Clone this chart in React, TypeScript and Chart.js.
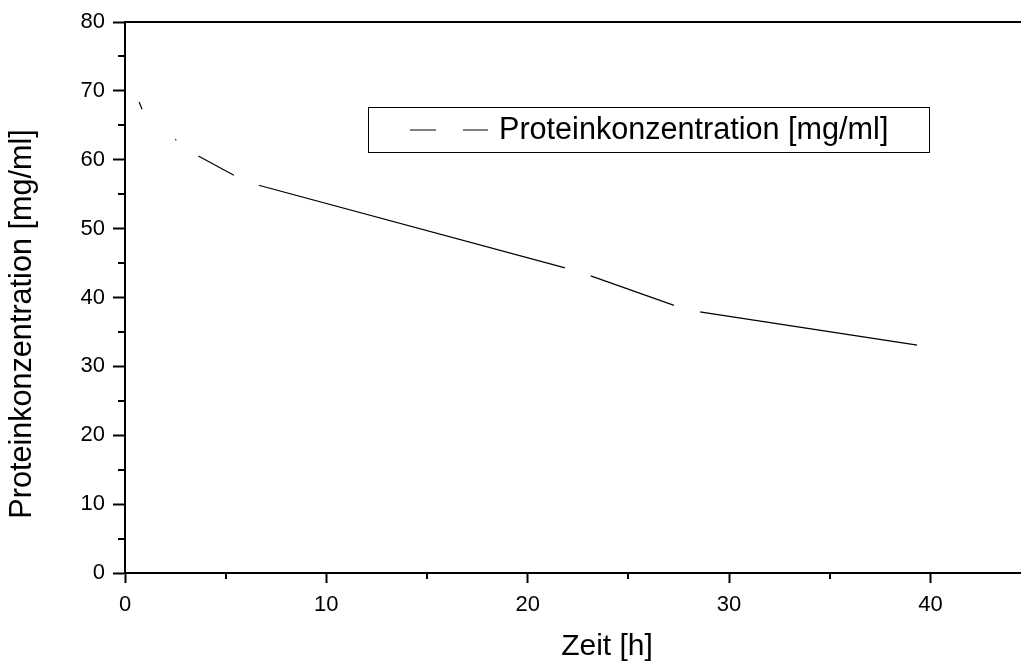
import React, { useEffect, useRef } from 'react';
import { Chart, registerables } from 'chart.js';

Chart.register(...registerables);

// ---- data ----
const timeHours = [0.45, 1.1, 2.0, 3.05, 6.0, 22.5, 27.9, 40.0];
const proteinConc = [70.2, 65.5, 64.3, 61.5, 56.8, 43.8, 38.2, 32.8];
const xMajorTicks = [0, 10, 20, 30, 40];
const xMinorTicks = [5, 15, 25, 35];
const yMajorTicks = [0, 10, 20, 30, 40, 50, 60, 70, 80];
const yMinorTicks = [5, 15, 25, 35, 45, 55, 65, 75];
const seriesLabel = 'Proteinkonzentration [mg/ml]';
const xTitle = 'Zeit [h]';
const yTitle = 'Proteinkonzentration [mg/ml]';

const FONT = '"Liberation Sans", Arial, Helvetica, sans-serif';

const decorPlugin = {
  id: 'decor',
  afterDraw(chart: any) {
    const ctx = chart.ctx as CanvasRenderingContext2D;
    const { left, top, bottom } = chart.chartArea;
    const xs = chart.scales.x;
    const ys = chart.scales.y;
    ctx.save();
    ctx.strokeStyle = '#000';
    ctx.lineWidth = 2;
    // minor ticks
    ctx.beginPath();
    xMinorTicks.forEach((v) => {
      const px = Math.round(xs.getPixelForValue(v));
      ctx.moveTo(px, bottom);
      ctx.lineTo(px, bottom + 6);
    });
    yMinorTicks.forEach((v) => {
      const py = Math.round(ys.getPixelForValue(v));
      ctx.moveTo(left, py);
      ctx.lineTo(left - 7, py);
    });
    ctx.stroke();
    // top frame line
    ctx.beginPath();
    ctx.moveTo(left - 1, top);
    ctx.lineTo(chart.width, top);
    ctx.stroke();

    // legend box
    ctx.lineWidth = 1;
    ctx.strokeRect(368.5, 107.5, 561, 45);
    // legend sample (line with gap around the hidden symbol)
    ctx.lineWidth = 1.2;
    ctx.beginPath();
    ctx.moveTo(410, 130);
    ctx.lineTo(436, 130);
    ctx.moveTo(463, 130);
    ctx.lineTo(488, 130);
    ctx.stroke();
    ctx.fillStyle = '#000';
    ctx.font = `30.6px ${FONT}`;
    ctx.textAlign = 'left';
    ctx.textBaseline = 'middle';
    ctx.fillText(chart.data.datasets[0].label, 499, 131);

    // axis titles
    ctx.font = `30px ${FONT}`;
    ctx.textAlign = 'center';
    ctx.fillText(xTitle, 607, 647);
    ctx.save();
    ctx.font = `30.6px ${FONT}`;
    ctx.translate(23, 324);
    ctx.rotate(-Math.PI / 2);
    ctx.fillText(yTitle, 0, 0);
    ctx.restore();
    ctx.restore();
  },
};

export default function App() {
  const canvasRef = useRef<HTMLCanvasElement | null>(null);

  useEffect(() => {
    if (!canvasRef.current) return;
    const points = timeHours.map((t, i) => ({ x: t, y: proteinConc[i] }));
    const chart = new Chart(canvasRef.current, {
      type: 'line',
      data: {
        datasets: [
          {
            label: seriesLabel,
            data: points,
            borderColor: '#000',
            borderWidth: 1.2,
            tension: 0,
            pointRadius: 13.6,
            pointHoverRadius: 13.6,
            pointBackgroundColor: '#fff',
            pointBorderColor: '#fff',
            pointBorderWidth: 0,
            fill: false,
          },
        ],
      },
      options: {
        animation: false,
        responsive: false,
        devicePixelRatio: 1,
        events: [],
        layout: { autoPadding: false, padding: { left: 0, right: 0, top: 22, bottom: 0 } },
        plugins: {
          legend: { display: false },
          tooltip: { enabled: false },
          title: { display: false },
        },
        scales: {
          x: {
            type: 'linear',
            min: 0,
            max: 44.5,
            afterBuildTicks: (s: any) => {
              s.ticks = xMajorTicks.map((v) => ({ value: v }));
            },
            afterFit: (s: any) => {
              s.height = 90;
              s.paddingLeft = 0;
              s.paddingRight = 0;
            },
            grid: {
              display: true,
              drawOnChartArea: false,
              drawTicks: true,
              tickLength: 10,
              tickWidth: 2,
              tickColor: '#000',
              z: 1,
            },
            border: { display: true, color: '#000', width: 2, z: 1 },
            ticks: {
              color: '#000',
              font: { family: FONT, size: 22 },
              padding: 9,
              maxRotation: 0,
              z: 1,
            },
          },
          y: {
            type: 'linear',
            min: 0,
            max: 80,
            afterBuildTicks: (s: any) => {
              s.ticks = yMajorTicks.map((v) => ({ value: v }));
            },
            afterFit: (s: any) => {
              s.width = 125;
              s.paddingTop = 0;
              s.paddingBottom = 0;
            },
            grid: {
              display: true,
              drawOnChartArea: false,
              drawTicks: true,
              tickLength: 12,
              tickWidth: 2,
              tickColor: '#000',
              z: 1,
            },
            border: { display: true, color: '#000', width: 2, z: 1 },
            ticks: {
              color: '#000',
              font: { family: FONT, size: 22 },
              padding: 8,
              z: 1,
            },
          },
        },
      },
      plugins: [decorPlugin],
    });
    return () => chart.destroy();
  }, []);

  return (
    <div style={{ position: 'fixed', left: 0, top: 0, width: 1021, height: 663, background: '#fff' }}>
      <canvas ref={canvasRef} width={1021} height={663} style={{ display: 'block' }} />
    </div>
  );
}
